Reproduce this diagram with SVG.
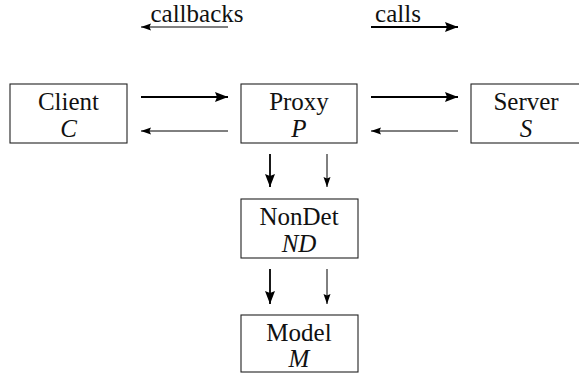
<svg xmlns="http://www.w3.org/2000/svg" width="579" height="374" viewBox="0 0 579 374">
<style>
.box{fill:#fff;stroke:#222;stroke-width:1.1}
.t{font-family:'Liberation Serif','Times New Roman','DejaVu Serif',serif;font-size:25px;fill:#111;text-anchor:middle}
.i{font-style:italic}
.thick{stroke:#000;stroke-width:1.8;fill:none}
.thin{stroke:#000;stroke-width:1;fill:none}
</style>
<defs>
<marker id="hk" markerUnits="userSpaceOnUse" markerWidth="16" markerHeight="12" refX="13" refY="5" orient="auto">
<path d="M0,0 L13,5 L0,10 L2,5 z" fill="#000"/>
</marker>
<marker id="hn" markerUnits="userSpaceOnUse" markerWidth="12" markerHeight="9" refX="10" refY="3.5" orient="auto">
<path d="M0,0 L10,3.5 L0,7 L1.5,3.5 z" fill="#000"/>
</marker>
</defs>
<g id="labels">
<text class="t" x="197" y="22">callbacks</text>
<text class="t" x="398" y="22">calls</text>
</g>
<g id="connectors">
<path class="thin" d="M228,27 H141" marker-end="url(#hn)"/>
<path class="thick" d="M371,27 H458" marker-end="url(#hk)"/>
<path class="thick" d="M141,97 H228" marker-end="url(#hk)"/>
<path class="thin" d="M228,131 H141" marker-end="url(#hn)"/>
<path class="thick" d="M371,97 H458" marker-end="url(#hk)"/>
<path class="thin" d="M458,131 H371" marker-end="url(#hn)"/>
<path class="thick" d="M270,154 V187" marker-end="url(#hk)"/>
<path class="thin" d="M327,154 V187" marker-end="url(#hn)"/>
<path class="thick" d="M270,269 V304" marker-end="url(#hk)"/>
<path class="thin" d="M327,269 V304" marker-end="url(#hn)"/>
</g>
<g id="client">
<rect class="box" x="10" y="84" width="117" height="59"/>
<text class="t" x="68.5" y="110">Client</text>
<text class="t i" x="68.5" y="137">C</text>
</g>
<g id="proxy">
<rect class="box" x="241" y="84" width="116" height="59"/>
<text class="t" x="299" y="110">Proxy</text>
<text class="t i" x="299" y="137">P</text>
</g>
<g id="server">
<rect class="box" x="471" y="84" width="117" height="59"/>
<text class="t" x="526" y="110">Server</text>
<text class="t i" x="526" y="137">S</text>
</g>
<g id="nondet">
<rect class="box" x="241" y="199" width="117" height="59"/>
<text class="t" x="299" y="225">NonDet</text>
<text class="t i" x="299" y="252">ND</text>
</g>
<g id="model">
<rect class="box" x="241" y="315" width="117" height="57"/>
<text class="t" x="299" y="341">Model</text>
<text class="t i" x="299" y="367">M</text>
</g>
</svg>
